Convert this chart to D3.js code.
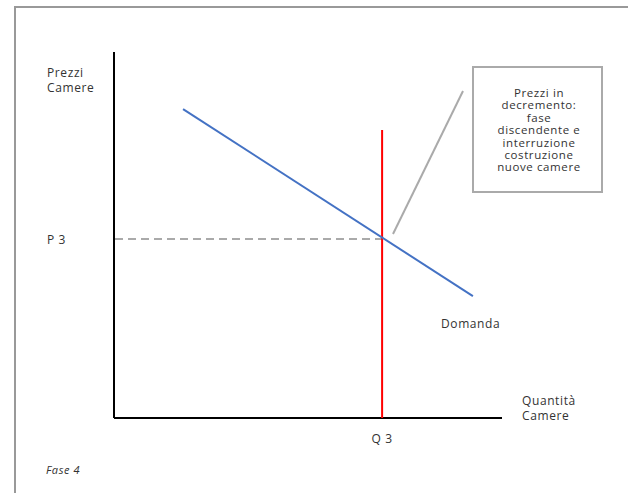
<!DOCTYPE html>
<html>
<head>
<meta charset="utf-8">
<script src="https://cdn.jsdelivr.net/npm/d3@7"></script>
<style>
  body { margin: 0; background: #fff; }
  text { font-family: "Open Sans", "DejaVu Sans", sans-serif; fill: #333; font-size: 12px; letter-spacing: 0.6px; }
</style>
</head>
<body>
<div id="chart"></div>
<script>
// values (0..100 units on both axes)
var demandX = [17.8, 92.5];
var demandY = [84.4, 33.3];
var q3 = 69.1, p3 = 48.9;
var supplyY = [0, 78.7];
var xLabels = ["Q 3"];
var yLabels = ["P 3"];
var calloutLines = ["Prezzi in", "decremento:", "fase", "discendente e", "interruzione", "costruzione", "nuove camere"];

var svg = d3.select('#chart').append('svg').attr('width', 628).attr('height', 493);

// outer frame
svg.append('rect').attr('x', 15).attr('y', 7).attr('width', 640).attr('height', 520)
    .attr('fill', 'none').attr('stroke', '#999').attr('stroke-width', 2);

var x = d3.scaleLinear().domain([0, 100]).range([114, 502]);
var y = d3.scaleLinear().domain([0, 100]).range([418, 52]);

// axes
svg.append('line').attr('x1', x(0)).attr('x2', x(0)).attr('y1', y(0)).attr('y2', y(100))
    .attr('stroke', '#000').attr('stroke-width', 2);
svg.append('line').attr('x1', x(0)).attr('x2', x(100)).attr('y1', y(0)).attr('y2', y(0))
    .attr('stroke', '#000').attr('stroke-width', 2);

// dashed P3 guide
svg.append('line').attr('x1', x(0) + 1).attr('x2', x(q3)).attr('y1', y(p3)).attr('y2', y(p3))
    .attr('stroke', '#aaa').attr('stroke-width', 2).attr('stroke-dasharray', '8,5');

// vertical supply line
svg.append('line').attr('x1', x(q3)).attr('x2', x(q3)).attr('y1', y(supplyY[0])).attr('y2', y(supplyY[1]))
    .attr('stroke', '#f00').attr('stroke-width', 2);

// demand
var line = d3.line().x(function(d){ return x(d[0]); }).y(function(d){ return y(d[1]); });
svg.append('path').datum(d3.zip(demandX, demandY)).attr('d', line)
    .attr('fill', 'none').attr('stroke', '#4472c4').attr('stroke-width', 2);

// labels
svg.append('text').attr('x', 47).attr('y', 77).text('Prezzi');
svg.append('text').attr('x', 47).attr('y', 92).text('Camere');
svg.append('text').attr('x', 47).attr('y', y(p3) + 5).text(yLabels[0]);
svg.append('text').attr('x', x(q3)).attr('y', 443).attr('text-anchor', 'middle').text(xLabels[0]);
svg.append('text').attr('x', 522).attr('y', 405).text('Quantità');
svg.append('text').attr('x', 522).attr('y', 420).text('Camere');
svg.append('text').attr('x', 441).attr('y', 328).text('Domanda');
svg.append('text').attr('x', 46).attr('y', 474).style('font-style', 'italic').style('font-size', '11px').text('Fase 4');

// callout
svg.append('line').attr('x1', 463).attr('y1', 91).attr('x2', 393).attr('y2', 234)
    .attr('stroke', '#aaa').attr('stroke-width', 2);
svg.append('rect').attr('x', 473).attr('y', 67).attr('width', 129).attr('height', 125)
    .attr('fill', '#fff').attr('stroke', '#aaa').attr('stroke-width', 2);
svg.append('g').selectAll('text').data(calloutLines).enter().append('text')
    .attr('x', 539).attr('y', function(d, i){ return 97 + i * 12.4; })
    .attr('text-anchor', 'middle').style('font-size', '11.5px').text(function(d){ return d; });
</script>
</body>
</html>
